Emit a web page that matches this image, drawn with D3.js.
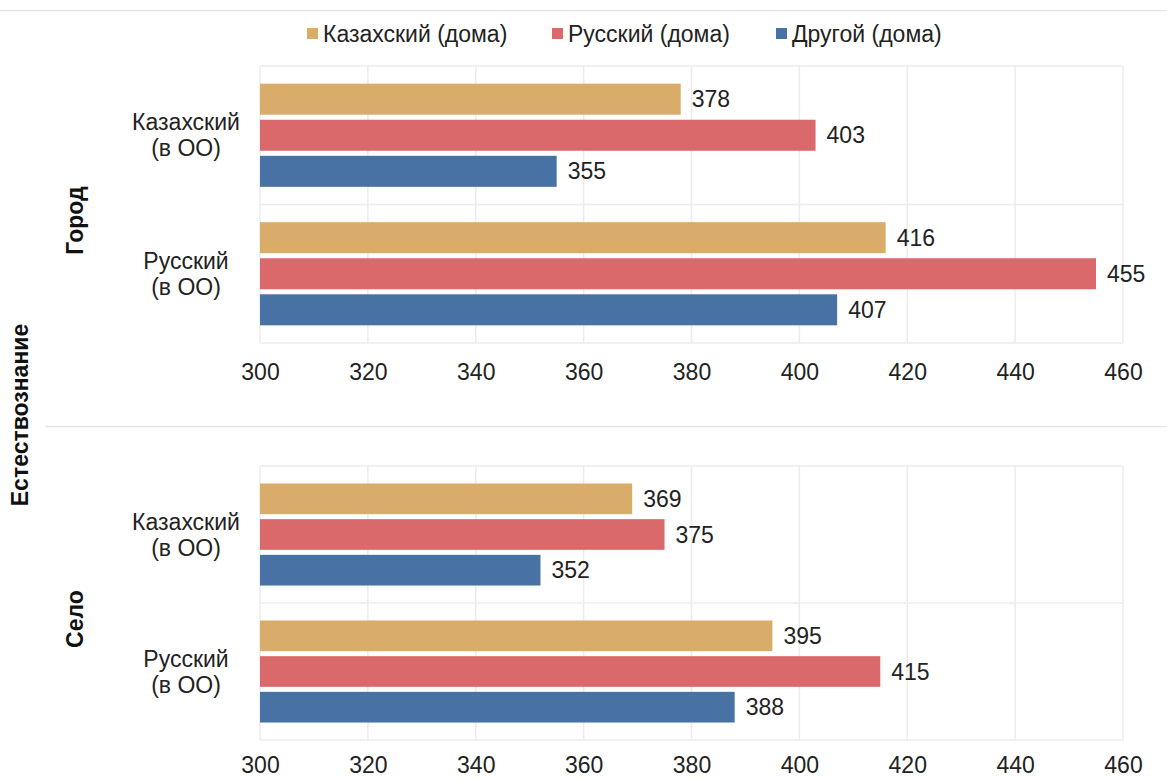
<!DOCTYPE html>
<html><head><meta charset="utf-8">
<script src="https://cdn.jsdelivr.net/npm/d3@7"></script>
<style>body{margin:0;background:#fff;} svg{display:block;font-family:"Liberation Sans Narrow","Liberation Sans",Arial,sans-serif;}</style>
</head><body>
<svg id="c" width="1167" height="780"></svg>
<script>
const panels = ["Город", "Село"];
const categories = ["Казахский (в ОО)", "Русский (в ОО)"];
const categoryLines = [["Казахский", "(в ОО)"], ["Русский", "(в ОО)"]];
const series = ["Казахский (дома)", "Русский (дома)", "Другой (дома)"];
const colors = ["#D9AC6A", "#D9696A", "#4872A4"];
const subject = "Естествознание";
// values[panel][category][series]
const gorodValues = [[378, 403, 355], [416, 455, 407]];
const seloValues = [[369, 375, 352], [395, 415, 388]];
const panelValues = [gorodValues, seloValues];
const xTicks = [300, 320, 340, 360, 380, 400, 420, 440, 460];

const FS = 23;
const svg = d3.select("#c");
const left = 260, right = 1123;
const x = d3.scaleLinear().domain([300, 460]).range([left, right]);
const panelRanges = [[66, 343], [466, 740]];
const tickOffsets = [29, 25];

svg.append("line").attr("x1", 0).attr("x2", 1167).attr("y1", 10.5).attr("y2", 10.5).attr("stroke", "#e6e6e6").attr("stroke-width", 1.5);
svg.append("line").attr("x1", 45).attr("x2", 1167).attr("y1", 426.5).attr("y2", 426.5).attr("stroke", "#e6e6e6").attr("stroke-width", 1.5);

const legendX = [307, 552, 776];
const lg = svg.append("g");
series.forEach((s, i) => {
  lg.append("rect").attr("x", legendX[i]).attr("y", 28).attr("width", 11).attr("height", 11).attr("fill", colors[i]);
  lg.append("text").attr("x", legendX[i] + 16).attr("y", 34).attr("dy", "0.35em").attr("font-size", FS).attr("fill", "#222").text(s);
});

panelValues.forEach((vals, pi) => {
  const [y0, y1] = panelRanges[pi];
  const g = svg.append("g");
  const yCat = d3.scaleBand().domain(categories).range([y0, y1]).padding(0);
  const ySer = d3.scaleBand().domain(series).range([0, yCat.bandwidth()]).paddingInner(0.14).paddingOuter(0.49);

  g.selectAll(".gx").data(xTicks).join("line")
    .attr("x1", d => x(d)).attr("x2", d => x(d)).attr("y1", y0).attr("y2", y1)
    .attr("stroke", "#ececec").attr("stroke-width", 1.5);
  g.append("line").attr("x1", left).attr("x2", right).attr("y1", y0).attr("y2", y0).attr("stroke", "#ececec").attr("stroke-width", 1.5);
  g.append("line").attr("x1", left).attr("x2", right).attr("y1", y1).attr("y2", y1).attr("stroke", "#ececec").attr("stroke-width", 1.5);
  g.append("line").attr("x1", left).attr("x2", right).attr("y1", yCat(categories[1])).attr("y2", yCat(categories[1])).attr("stroke", "#ececec").attr("stroke-width", 1.5);

  const axis = d3.axisBottom(x).tickValues(xTicks).tickSize(0).tickPadding(0);
  const ag = g.append("g").attr("transform", `translate(0,${y1})`).call(axis);
  ag.select(".domain").remove();
  ag.selectAll("text").attr("font-size", FS).attr("fill", "#222").attr("font-family", null).attr("y", tickOffsets[pi]).attr("dy", "0.35em");

  categories.forEach((c, ci) => {
    const cy = yCat(c);
    series.forEach((s, si) => {
      const v = vals[ci][si];
      const by = cy + ySer(s);
      g.append("rect").attr("x", x(300)).attr("y", by).attr("width", x(v) - x(300)).attr("height", ySer.bandwidth()).attr("fill", colors[si]);
      g.append("text").attr("x", x(v) + 11).attr("y", by + ySer.bandwidth() / 2).attr("dy", "0.35em").attr("font-size", FS).attr("fill", "#222").text(v);
    });
    const mid = cy + yCat.bandwidth() / 2;
    const t = g.append("text").attr("text-anchor", "middle").attr("font-size", FS).attr("fill", "#222");
    categoryLines[ci].forEach((ln, li) => {
      t.append("tspan").attr("x", 186).attr("y", mid + (li === 0 ? -13 : 13)).attr("dy", "0.35em").text(ln);
    });
  });

  const pm = (y0 + y1) / 2 + 16;
  g.append("text").attr("transform", `translate(75,${pm}) rotate(-90)`).attr("text-anchor", "middle").attr("dy", "0.35em")
    .attr("font-size", FS).attr("font-weight", "bold").attr("fill", "#111").text(panels[pi]);
});

svg.append("text").attr("transform", `translate(20,415) rotate(-90)`).attr("text-anchor", "middle").attr("dy", "0.35em")
  .attr("font-size", FS).attr("font-weight", "bold").attr("fill", "#111").text(subject);
</script>
</body></html>
